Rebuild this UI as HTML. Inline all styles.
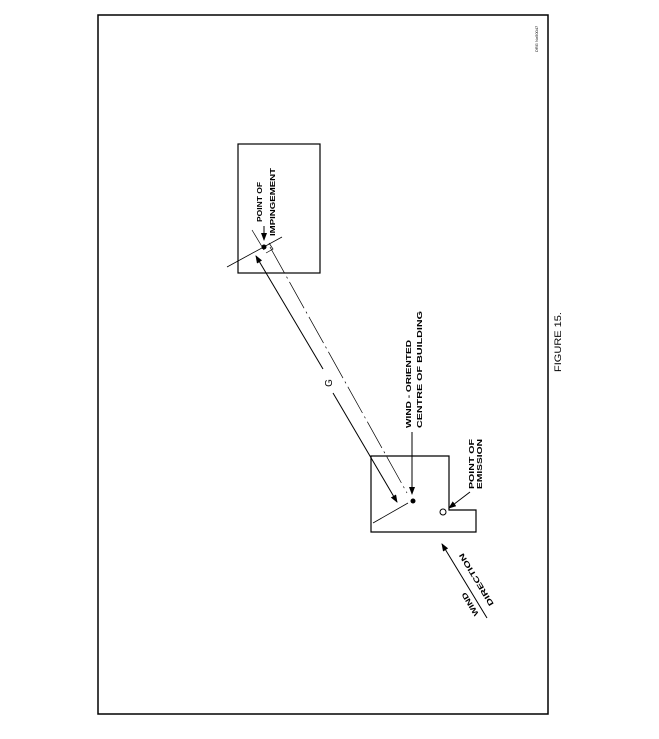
<!DOCTYPE html>
<html><head><meta charset="utf-8"><style>
html,body{margin:0;padding:0;background:#fff;}
svg{display:block;}
text{font-family:"Liberation Sans",sans-serif;fill:#000;}
</style></head><body>
<svg width="659" height="739" viewBox="0 0 659 739" xmlns="http://www.w3.org/2000/svg">
<defs>
<marker id="ah" markerWidth="8" markerHeight="6" refX="7" refY="3" orient="auto" markerUnits="userSpaceOnUse">
<path d="M0,0 L8,3 L0,6 Z" fill="#000"/></marker>
</defs>
<g stroke="#000" fill="none">
<rect x="98" y="15" width="450" height="699" stroke-width="1.5"/>
<rect x="238" y="144" width="82" height="129" stroke-width="1.2"/>
<path d="M371,456 L449,456 L449,510 L476,510 L476,532 L371,532 Z" stroke-width="1.2"/>
<line x1="323" y1="369" x2="256" y2="256" stroke-width="1" marker-end="url(#ah)"/>
<line x1="333" y1="393" x2="397" y2="502" stroke-width="1" marker-end="url(#ah)"/>
<line x1="270" y1="247" x2="407" y2="493" stroke-width="0.7" stroke-dasharray="30,4,2,4"/>
<line x1="227" y1="267" x2="282" y2="237" stroke-width="0.8"/>
<line x1="373" y1="523" x2="408" y2="503" stroke-width="0.8"/>
<line x1="252" y1="230" x2="264" y2="250" stroke-width="0.7"/>
<path d="M266,253 L273,249 L269,243" stroke-width="0.7"/>
<line x1="264" y1="226" x2="264" y2="240" stroke-width="1" marker-end="url(#ah)"/>
<line x1="412" y1="432" x2="412" y2="494" stroke-width="1" marker-end="url(#ah)"/>
<line x1="470" y1="492" x2="449" y2="508" stroke-width="1" marker-end="url(#ah)"/>
<line x1="487" y1="618" x2="442" y2="544" stroke-width="1" marker-end="url(#ah)"/>
<circle cx="443" cy="512" r="3" stroke-width="1"/>
</g>
<circle cx="264" cy="247" r="2.5" fill="#000"/>
<circle cx="413" cy="501" r="2.5" fill="#000"/>
<g font-size="7.5" font-weight="bold">
<text transform="translate(262,222) rotate(-90)" textLength="40" lengthAdjust="spacingAndGlyphs">POINT OF</text>
<text transform="translate(275,236) rotate(-90)" textLength="68" lengthAdjust="spacingAndGlyphs">IMPINGEMENT</text>
<text transform="translate(411,428) rotate(-90)" textLength="88" lengthAdjust="spacingAndGlyphs">WIND - ORIENTED</text>
<text transform="translate(422,428) rotate(-90)" textLength="117" lengthAdjust="spacingAndGlyphs">CENTRE OF BUILDING</text>
<text transform="translate(474,489) rotate(-90)" textLength="50" lengthAdjust="spacingAndGlyphs">POINT OF</text>
<text transform="translate(482,489) rotate(-90)" textLength="50" lengthAdjust="spacingAndGlyphs">EMISSION</text>
<text transform="translate(332,383) rotate(-90)" font-size="10" font-weight="normal" text-anchor="middle">G</text>
<text transform="translate(494,604) rotate(-121)" textLength="60" lengthAdjust="spacingAndGlyphs">DIRECTION</text>
<text transform="translate(479,614) rotate(-121)" textLength="26" lengthAdjust="spacingAndGlyphs">WIND</text>
</g>
<text transform="translate(561,372) rotate(-90)" font-size="9" textLength="60" lengthAdjust="spacingAndGlyphs">FIGURE 15.</text>
<text transform="translate(538,52) rotate(-90)" font-size="4">DRG No50047</text>
</svg>
</body></html>
